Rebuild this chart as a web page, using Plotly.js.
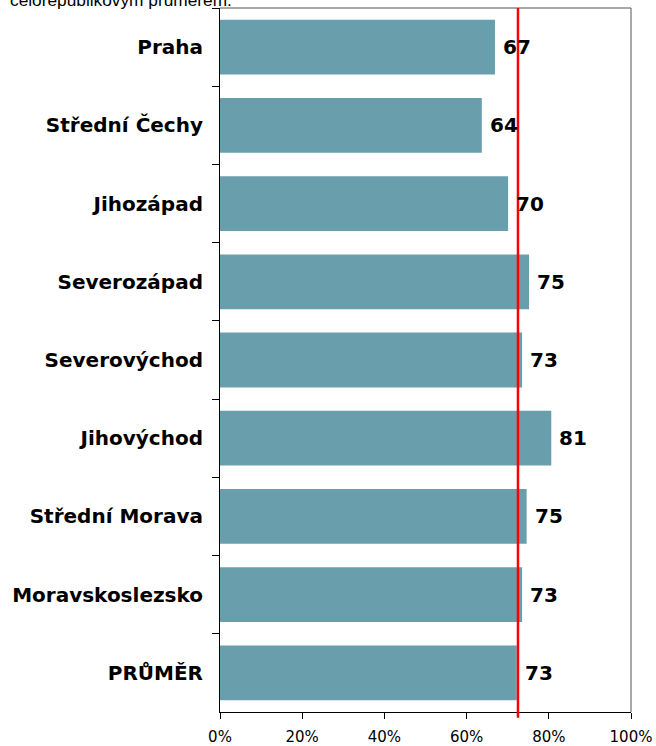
<!DOCTYPE html>
<html>
<head>
<meta charset="utf-8">
<script src="https://cdn.plot.ly/plotly-3.0.1.min.js"></script>
<style>
html, body { margin: 0; padding: 0; background: #fff; }
#chart { width: 656px; height: 746px; }
</style>
</head>
<body>
<div id="chart"></div>
<script>
// Data
const regions = ["Praha", "Střední Čechy", "Jihozápad", "Severozápad", "Severovýchod", "Jihovýchod", "Střední Morava", "Moravskoslezsko", "PRŮMĚR"];
const values = [66.9, 63.7, 70.1, 75.2, 73.5, 80.6, 74.6, 73.5, 72.2];
const valueLabels = ["67", "64", "70", "75", "73", "81", "75", "73", "73"];
const averageLine = 72.5;
const xTickVals = [0, 20, 40, 60, 80, 100];
const xTickText = ["0%", "20%", "40%", "60%", "80%", "100%"];
const titleText = "celorepublikovým průměrem.";

const barColor = "#699fac";
const labelFont = { family: "DejaVu Sans", size: 20, color: "#000" };

const trace = {
  type: "bar",
  orientation: "h",
  y: regions,
  x: values,
  marker: { color: barColor, line: { width: 0 } },
  hoverinfo: "skip"
};

const annotations = regions.map((r, i) => ({
  x: values[i],
  y: r,
  xref: "x",
  yref: "y",
  text: "<b>" + valueLabels[i] + "</b>",
  showarrow: false,
  xanchor: "left",
  yanchor: "middle",
  xshift: 6,
  font: labelFont
}));

annotations.push({
  x: (8 - 220) / 411,
  y: 1 + 8 / 704,
  xref: "paper",
  yref: "paper",
  text: titleText,
  showarrow: false,
  xanchor: "left",
  yanchor: "middle",
  font: { family: "Liberation Sans", size: 17.3, color: "#000" }
});

const layout = {
  width: 656,
  height: 746,
  margin: { l: 220, r: 25, t: 8, b: 34 },
  paper_bgcolor: "#fff",
  plot_bgcolor: "#fff",
  showlegend: false,
  bargap: 0.3,
  xaxis: {
    range: [0, 100],
    tickvals: xTickVals,
    ticktext: xTickText,
    ticks: "outside",
    ticklen: 6,
    tickwidth: 1,
    tickcolor: "#000",
    showline: true,
    linecolor: "#000",
    linewidth: 1,
    showgrid: false,
    zeroline: false,
    tickfont: { family: "DejaVu Sans", size: 15, color: "#000" },
    ticklabelstandoff: 5,
    fixedrange: true
  },
  yaxis: {
    type: "category",
    autorange: "reversed",
    ticks: "outside",
    tickson: "boundaries",
    ticklen: 7,
    tickwidth: 1,
    tickcolor: "#000",
    showline: true,
    linecolor: "#000",
    linewidth: 1,
    showgrid: false,
    zeroline: false,
    tickfont: { family: "DejaVu Sans", size: 20, color: "#000" },
    tickprefix: "<b>",
    ticksuffix: "</b>",
    ticklabelstandoff: 12,
    fixedrange: true
  },
  shapes: [
    { type: "line", xref: "paper", yref: "paper", x0: 0, x1: 1, y0: 1, y1: 1, line: { color: "#555", width: 1 } },
    { type: "line", xref: "paper", yref: "paper", x0: 1, x1: 1, y0: 0, y1: 1, line: { color: "#555", width: 1 } },
    { type: "line", xref: "x", yref: "paper", x0: averageLine, x1: averageLine, y0: -0.008, y1: 1, line: { color: "#ff0000", width: 2.5 } }
  ],
  annotations: annotations
};

Plotly.newPlot("chart", [trace], layout, { displayModeBar: false, staticPlot: true });
</script>
</body>
</html>
